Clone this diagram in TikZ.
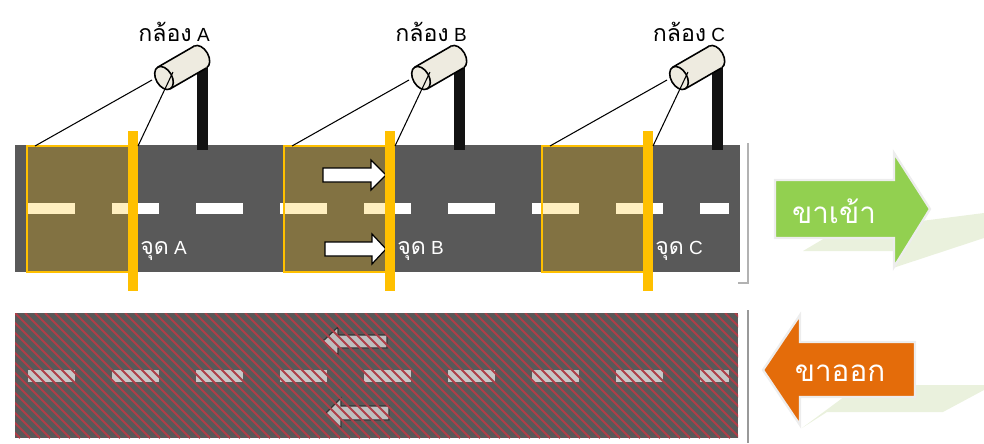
\documentclass[tikz,border=0pt]{standalone}
\usepackage{fontspec}
\setmainfont{Liberation Sans}
\newfontfamily\thaifont[Script=Thai, Scale=1.22]{Loma}
\usetikzlibrary{positioning, calc}

\definecolor{roadgray}{HTML}{595959}
\definecolor{gateyellow}{HTML}{FFC000}
\definecolor{camcream}{HTML}{EEEBE0}
\definecolor{inboundgreen}{HTML}{92D050}
\definecolor{outboundorange}{HTML}{E46C0A}
\definecolor{shadowgreen}{HTML}{EAF1DD}
\definecolor{stripered}{RGB}{175,62,72}

\begin{document}
\begin{tikzpicture}[x=0.02cm, y=-0.02cm,
        road/.style={fill=roadgray},
        lanemark/.style={fill=white},
        oldmark/.style={fill=black!22},
        zone/.style={draw=gateyellow, line width=0.9pt, fill=gateyellow, fill opacity=0.25},
        gate/.style={fill=gateyellow},
        pole/.style={fill=black!93},
        lens/.style={draw=black, line width=0.9pt, fill=camcream},
        sight/.style={draw=black, line width=0.6pt},
        flowarrow/.style={draw=black, line width=0.7pt, fill=white},
        backarrow/.style={draw=black!80, line width=0.7pt, fill=black!25},
        stripe/.style={draw=stripered, line width=1.2pt},
        bigarrow/.style={draw=white!93!black, line width=1.3pt},
        camlabel/.style={font=\fontsize{10.8}{12}\selectfont, inner sep=0pt},
        pointlabel/.style={font=\fontsize{10.8}{12}\selectfont, text=white, inner sep=0pt},
        arrowlabel/.style={font=\fontsize{13.8}{16}\selectfont\thaifont, text=white, inner sep=0pt}
        ]

    \useasboundingbox (0,0) rectangle (984,443);

    % inbound road
    \fill[road] (15,145) rectangle (740,272);
    \foreach \x in {28,112,...,616}
        \fill[lanemark] (\x,203) rectangle ++(47,11);
    \fill[lanemark] (700,203) rectangle (729,214);

    % outbound road
    \fill[road] (15,313) rectangle (738,438);
    \foreach \x in {28,112,...,616}
        \fill[oldmark] (\x,370) rectangle ++(47,12);
    \fill[oldmark] (700,370) rectangle (729,382);
    \filldraw[backarrow] (387,335) -- (338,335) -- (338,327) -- (323,341) -- (338,355) -- (338,348) -- (387,348) -- cycle;
    \filldraw[backarrow] (389,406) -- (341,406) -- (341,398) -- (326,413) -- (341,428) -- (341,420) -- (389,420) -- cycle;
    \begin{scope}
        \clip (15,313) rectangle (738,438);
        \foreach \x in {-115,-105,...,735}
            \draw[stripe] (\x,313) -- ++(125,125);
    \end{scope}

    \draw[black!30, line width=0.6pt] (738,283) -- (748,283) -- (748,143);
    \draw[black!40, line width=0.8pt] (748,310) -- (748,443);

    % cameras and their fields of view
    \foreach \cx/\n in {164/A, 421/B, 679/C}{
        \filldraw[zone] (\cx-137,146) rectangle (\cx-35,272);
    }

    \filldraw[flowarrow] (323,168) -- (371,168) -- (371,160) -- (386,175) -- (371,190) -- (371,182) -- (323,182) -- cycle;
    \filldraw[flowarrow] (325,242) -- (372,242) -- (372,234) -- (386,249) -- (372,264) -- (372,256) -- (325,256) -- cycle;

    \foreach \cx/\n in {164/A, 421/B, 679/C}{
        \fill[gate] (\cx-36,131) rectangle (\cx-26,291);
        \fill[pole] (\cx+32.5,62) rectangle (\cx+43.5,150);
        \begin{scope}[shift={(\cx,78)}, rotate=30]
            \filldraw[lens] (42,0) ellipse [x radius=8, y radius=12.5];
            \fill[camcream] (0,-12.5) rectangle (42,12.5);
            \draw[line width=0.9pt] (0,-12.5) -- (42,-12.5) (0,12.5) -- (42,12.5);
            \filldraw[lens] (0,0) ellipse [x radius=8, y radius=12.5];
        \end{scope}
        \coordinate (lensL\n) at (\cx-12,80);
        \coordinate (lensR\n) at (\cx+9,72);
        \coordinate (zone\n) at (\cx-129,146);
        \coordinate (gate\n) at (\cx-26,146);
        \draw[sight] (lensL\n) -- (zone\n);
        \draw[sight] (lensR\n) -- (gate\n);
        \node[camlabel] (cam\n) at (\cx+10,32) {{\thaifont กล้อง} \n};
        \node[pointlabel, anchor=west] (point\n) at (\cx-24,251) {{\thaifont จุด} \n};
    }

    % direction arrows
    \fill[shadowgreen] (803,251) -- (893,251) -- (893,268) -- (984,238) -- (984,213) -- (835,232) -- cycle;
    \filldraw[bigarrow, fill=inboundgreen] (775,180) -- (894,180) -- (894,153) -- (930,209) -- (894,267) -- (894,238) -- (775,238) -- cycle;
    \node[arrowlabel] (inbound) at (834,211) {ขาเข้า};

    \fill[shadowgreen] (802,428) -- (827,412) -- (943,412) -- (984,390) -- (984,385) -- (860,385) -- cycle;
    \filldraw[bigarrow, fill=outboundorange] (915,342) -- (800,342) -- (800,315) -- (763,370) -- (800,425) -- (800,397) -- (915,397) -- cycle;
    \node[arrowlabel] (outbound) at (840,373) {ขาออก};

\end{tikzpicture}
\end{document}
